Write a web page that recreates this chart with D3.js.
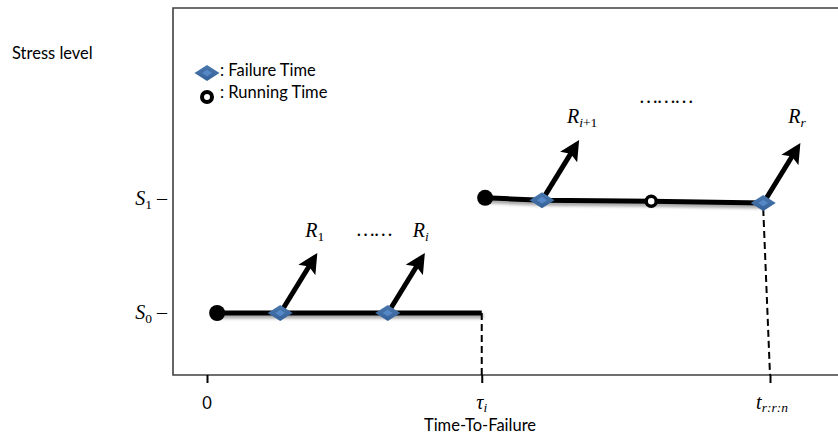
<!DOCTYPE html>
<html><head><meta charset="utf-8">
<script src="https://cdn.jsdelivr.net/npm/d3@7"></script>
<style>
body{margin:0;background:#fff;}
svg{display:block;}
.lab{font-family:Lato,"Open Sans",sans-serif;font-size:16.5px;fill:#000;}
.math{font-family:"Liberation Serif","DejaVu Serif",serif;font-style:italic;font-size:20px;fill:#000;}
</style></head><body>
<div id="chart"></div>
<script>
// ---- data ----
const timeTicks = [0, 48.8, 100];                  // 0, tau_i, t_{r:r:n}
const tickLabels = [["0",""], ["τ","i"], ["t","r:r:n"]];
const stressLevels = [0, 1];
const stressLabels = [["S","0"], ["S","1"]];
// stage 0 (stress S0)
const stage0Times = [1.8, 13.0, 32.1, 48.8];
const stage0Levels = [0, 0, 0, 0];
const stage0Types = ["start", "fail", "fail", "end"];
// stage 1 (stress S1)
const stage1Times = [49.4, 59.5, 78.9, 98.8];
const stage1Levels = [1.01, 0.99, 0.98, 0.965];
const stage1Types = ["start", "fail", "run", "fail"];
const reliabilityLabels = [["R","1"], ["R","i"], ["R","i+1"], ["R","r"]];
const dotsLabels = ["……", "………"];

const W = 838, H = 437;
const svg = d3.select("#chart").append("svg").attr("width", W).attr("height", H);
const defs = svg.append("defs");
defs.append("marker").attr("id","arrow").attr("viewBox","0 0 10 10")
  .attr("refX", 7).attr("refY", 5).attr("markerWidth", 4).attr("markerHeight", 4)
  .attr("orient","auto").attr("markerUnits","strokeWidth")
  .append("path").attr("d","M0,0 L10,5 L0,10 L2,5 Z").attr("fill","#000");
const f = defs.append("filter").attr("id","shadow").attr("filterUnits","userSpaceOnUse")
  .attr("x",0).attr("y",0).attr("width",W).attr("height",H);
f.append("feDropShadow").attr("dx",1.5).attr("dy",3).attr("stdDeviation",1.8).attr("flood-color","#000").attr("flood-opacity",0.35);
const lg = defs.append("linearGradient").attr("id","dg").attr("x1","0").attr("y1","0").attr("x2","0").attr("y2","1");
lg.append("stop").attr("offset","0").attr("stop-color","#4a78ad");
lg.append("stop").attr("offset","1").attr("stop-color","#35629a");

const x = d3.scaleLinear().domain([0, 100]).range([207, 770]);
const y = d3.scaleLinear().domain([0, 1]).range([313, 199]);
const frameL = 173, frameT = 8, frameB = 375;

// write a subscript: digits and "+" upright, letters italic
function sub(tx, s, dy) {
  const parts = s.match(/[0-9+]+|[^0-9+]+/g) || [];
  parts.forEach((p, j) => {
    const ts = tx.append("tspan").attr("font-size", 13.5).text(p);
    if (j === 0) ts.attr("dy", dy);
    if (/[0-9+]/.test(p)) ts.attr("font-style", "normal");
  });
}

// frame
svg.append("path").attr("d", `M${W},${frameT}H${frameL}V${frameB}H${W}`)
  .attr("fill","none").attr("stroke","#404040").attr("stroke-width",1.6);

// bottom axis ticks
const ax = d3.axisBottom(x).tickValues(timeTicks).tickSize(8).tickFormat("");
const axg = svg.append("g").attr("transform", `translate(0,${frameB})`).call(ax);
axg.select(".domain").remove();
axg.selectAll(".tick line").attr("stroke","#000").attr("stroke-width",2);
timeTicks.forEach((t, i) => {
  const tx = svg.append("text").attr("class", i === 0 ? "lab" : "math")
    .attr("x", x(t) + (i===2?2:0)).attr("y", 409).attr("text-anchor","middle");
  tx.append("tspan").text(tickLabels[i][0]);
  if (tickLabels[i][1]) sub(tx, tickLabels[i][1], 3);
});
svg.append("text").attr("class","lab").attr("x", 480).attr("y", 431).attr("text-anchor","middle").text("Time-To-Failure");

// y labels
stressLevels.forEach((s, i) => {
  const tx = svg.append("text").attr("class","math").attr("x", 167).attr("y", y(s) + 6).attr("text-anchor","end");
  tx.append("tspan").text(stressLabels[i][0]);
  sub(tx, stressLabels[i][1], 4);
  tx.append("tspan").attr("dy", -4).attr("font-style","normal").text(" –");
});
svg.append("text").attr("class","lab").attr("x", 12).attr("y", 59).text("Stress level");

// legend
function diamond(g, cx, cy) {
  g.append("path").attr("d", `M${cx-12.5},${cy}L${cx},${cy-8}L${cx+12.5},${cy}L${cx},${cy+8}Z`).attr("fill","url(#dg)");
  g.append("path").attr("d", `M${cx-5},${cy}L${cx},${cy-3.3}L${cx+5},${cy}L${cx},${cy+3.3}Z`).attr("fill","#5b8fd0").attr("opacity",0.8);
}
diamond(svg, 207, 73);
svg.append("circle").attr("cx", 207).attr("cy", 97).attr("r", 5).attr("fill","#fff").attr("stroke","#000").attr("stroke-width",4);
svg.append("text").attr("class","lab").attr("x", 220).attr("y", 76).text(": Failure Time");
svg.append("text").attr("class","lab").attr("x", 220).attr("y", 98).text(": Running Time");

// dashed guides
svg.append("line").attr("x1", x(stage0Times[3])).attr("y1", y(stage0Levels[3])).attr("x2", x(timeTicks[1])).attr("y2", frameB)
  .attr("stroke","#000").attr("stroke-width",2).attr("stroke-dasharray","7,4");
svg.append("line").attr("x1", x(stage1Times[3])).attr("y1", y(stage1Levels[3]) + 6).attr("x2", x(timeTicks[2])).attr("y2", frameB)
  .attr("stroke","#000").attr("stroke-width",2).attr("stroke-dasharray","7,4");

const line = d3.line().x(d => x(d[0])).y(d => y(d[1]));
function stage(times, levels, types) {
  const pts = times.map((t, i) => [t, levels[i]]);
  const g = svg.append("g");
  g.append("path").attr("d", line(pts)).attr("fill","none").attr("stroke","#000").attr("stroke-width",5)
    .attr("filter","url(#shadow)");
  pts.forEach((p, i) => {
    const px = x(p[0]), py = y(p[1]);
    if (types[i] === "fail") {
      g.append("line").attr("x1", px + 2).attr("y1", py - 3).attr("x2", px + 34).attr("y2", py - 55)
        .attr("stroke","#000").attr("stroke-width",5).attr("marker-end","url(#arrow)");
    }
  });
  pts.forEach((p, i) => {
    const px = x(p[0]), py = y(p[1]);
    if (types[i] === "start") g.append("circle").attr("cx", px).attr("cy", py).attr("r", 8).attr("fill","#000");
    else if (types[i] === "fail") diamond(g, px, py);
    else if (types[i] === "run") g.append("circle").attr("cx", px).attr("cy", py).attr("r", 5).attr("fill","#fff").attr("stroke","#000").attr("stroke-width",3.5);
  });
}
stage(stage0Times, stage0Levels, stage0Types);
stage(stage1Times, stage1Levels, stage1Types);

// R labels
const rPos = [[stage0Times[1], 0], [stage0Times[2], 0], [stage1Times[1], 1], [stage1Times[3], 1]];
rPos.forEach((p, i) => {
  const tx = svg.append("text").attr("class","math").attr("x", x(p[0]) + 25).attr("y", y(p[1]) - 76);
  tx.append("tspan").text(reliabilityLabels[i][0]);
  sub(tx, reliabilityLabels[i][1], 4);
});
svg.append("text").attr("class","math").attr("x", 357).attr("y", 236).attr("font-style","normal").attr("font-size",14).text(dotsLabels[0]);
svg.append("text").attr("class","math").attr("x", 640).attr("y", 103).attr("font-style","normal").attr("font-size",14).text(dotsLabels[1]);
</script>
</body></html>
